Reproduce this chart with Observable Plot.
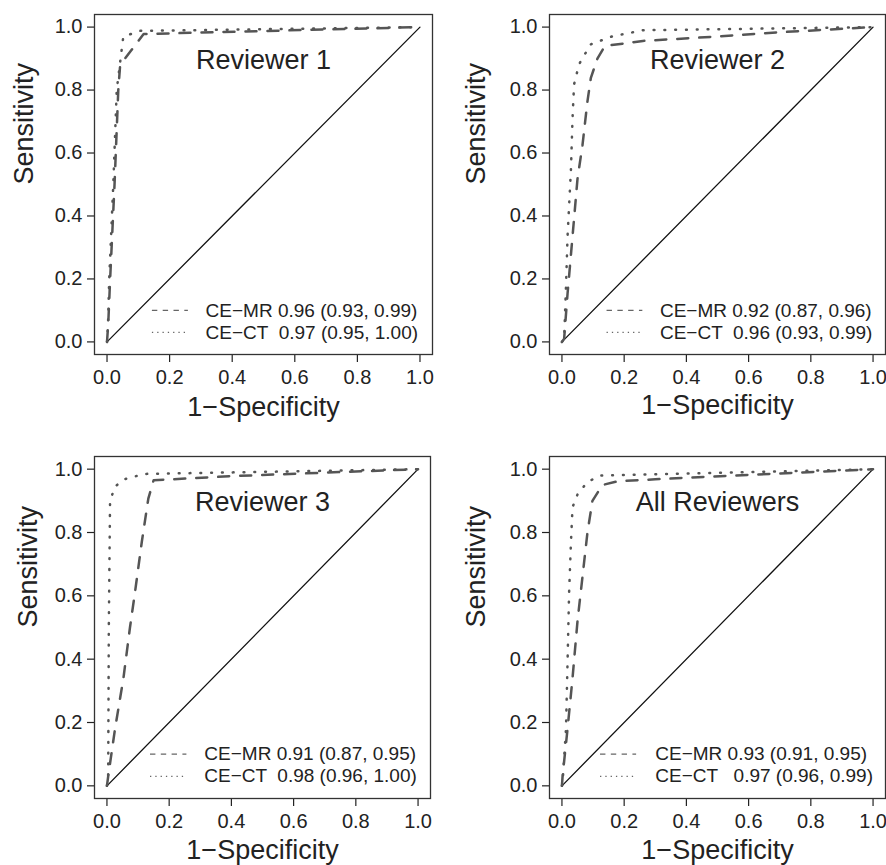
<!DOCTYPE html>
<html><head><meta charset="utf-8">
<script src="https://cdn.jsdelivr.net/npm/d3@7"></script>
<script src="https://cdn.jsdelivr.net/npm/@observablehq/plot@0.6"></script>
<style>
html,body{margin:0;padding:0;background:#fff;}
#wrap{position:relative;width:886px;height:865px;overflow:hidden;background:#fff;}
.panel{position:absolute;}
.panel svg text{white-space:pre;}
</style></head><body><div id="wrap"></div><script>
// ---- data ----
const panelTitles = ["Reviewer 1", "Reviewer 2", "Reviewer 3", "All Reviewers"];
const mrLabels = ["CE\u2212MR 0.96 (0.93, 0.99)", "CE\u2212MR 0.92 (0.87, 0.96)", "CE\u2212MR 0.91 (0.87, 0.95)", "CE\u2212MR 0.93 (0.91, 0.95)"];
const ctLabels = ["CE\u2212CT  0.97 (0.95, 1.00)", "CE\u2212CT  0.96 (0.93, 0.99)", "CE\u2212CT  0.98 (0.96, 1.00)", "CE\u2212CT   0.97 (0.96, 0.99)"];
const tickValues = [0, 0.2, 0.4, 0.6, 0.8, 1.0];
const diagonal = [0, 1];
const xTitle = "1\u2212Specificity";
const yTitle = "Sensitivity";

// Reviewer 1
const r1MrFpr = [0, 0.004, 0.01, 0.024, 0.036, 0.042, 0.117, 1];
const r1MrTpr = [0, 0.06, 0.2, 0.5, 0.8, 0.88, 0.978, 1];
const r1CtFpr = [0, 0.003, 0.007, 0.02, 0.031, 0.052, 0.106, 1];
const r1CtTpr = [0, 0.05, 0.2, 0.5, 0.8, 0.97, 0.988, 1];
// Reviewer 2
const r2MrFpr = [0, 0.007, 0.018, 0.034, 0.05, 0.066, 0.082, 0.093, 0.114, 0.138, 0.26, 0.48, 0.69, 1];
const r2MrTpr = [0, 0.01, 0.153, 0.335, 0.518, 0.625, 0.764, 0.839, 0.9, 0.94, 0.956, 0.969, 0.983, 1];
const r2CtFpr = [0, 0.007, 0.013, 0.018, 0.029, 0.034, 0.039, 0.055, 0.092, 0.16, 0.26, 1];
const r2CtTpr = [0, 0.01, 0.175, 0.335, 0.55, 0.71, 0.818, 0.882, 0.945, 0.97, 0.99, 1];
// Reviewer 3
const r3MrFpr = [0, 0.004, 0.026, 0.053, 0.074, 0.09, 0.112, 0.133, 0.15, 0.4, 1];
const r3MrTpr = [0, 0.03, 0.18, 0.34, 0.5, 0.61, 0.77, 0.907, 0.965, 0.978, 1];
const r3CtFpr = [0, 0.004, 0.006, 0.01, 0.026, 0.055, 0.12, 1];
const r3CtTpr = [0, 0.036, 0.5, 0.9, 0.945, 0.968, 0.985, 1];
// All reviewers
const r4MrFpr = [0, 0.002, 0.018, 0.034, 0.05, 0.066, 0.082, 0.098, 0.13, 0.18, 0.3, 0.6, 1];
const r4MrTpr = [0, 0.03, 0.18, 0.34, 0.52, 0.66, 0.8, 0.9, 0.95, 0.962, 0.968, 0.982, 1];
const r4CtFpr = [0, 0.002, 0.013, 0.018, 0.023, 0.029, 0.034, 0.05, 0.082, 0.125, 1];
const r4CtTpr = [0, 0.01, 0.18, 0.39, 0.61, 0.77, 0.88, 0.92, 0.96, 0.98, 1];

const mrFpr = [r1MrFpr, r2MrFpr, r3MrFpr, r4MrFpr];
const mrTpr = [r1MrTpr, r2MrTpr, r3MrTpr, r4MrTpr];
const ctFpr = [r1CtFpr, r2CtFpr, r3CtFpr, r4CtFpr];
const ctTpr = [r1CtTpr, r2CtTpr, r3CtTpr, r4CtTpr];

// ---- layout ----
const FONT = "'Liberation Sans', Arial, Helvetica, sans-serif";
const layout = [
  {left: 0,   top: 0,   h: 432, mL: 94,  mR: 11, mT: 14, mB: 78, yDx: -81, xDy: 61, legX: 0.315, s1: 0.145, s2: 0.26},
  {left: 443, top: 0,   h: 432, mL: 106, mR: 1,  mT: 14, mB: 78, yDx: -84, xDy: 59, legX: 0.315, s1: 0.145, s2: 0.26},
  {left: 0,   top: 432, h: 433, mL: 94,  mR: 13, mT: 24, mB: 67, yDx: -77, xDy: 60, legX: 0.313, s1: 0.14,  s2: 0.257},
  {left: 443, top: 432, h: 433, mL: 106, mR: 1,  mT: 24, mB: 67, yDx: -84, xDy: 60, legX: 0.30,  s1: 0.124, s2: 0.24}
];

const wrap = document.getElementById("wrap");
const fmt = d3.format(".1f");
const rows = (f, t) => f.map((x, i) => ({x, y: t[i]}));

layout.forEach((L, i) => {
  const plot = Plot.plot({
    width: 443, height: L.h,
    marginLeft: L.mL, marginRight: L.mR, marginTop: L.mT, marginBottom: L.mB,
    x: {domain: [-0.04, 1.04]},
    y: {domain: [-0.04, 1.04]},
    style: {fontFamily: FONT, color: "#222", overflow: "visible", background: "transparent"},
    marks: [
      Plot.axisX(tickValues, {tickSize: 8, tickPadding: 7, tickFormat: fmt, fontSize: 20, label: null, strokeWidth: 1.2}),
      Plot.axisY(tickValues, {tickSize: 7, tickPadding: 5, tickFormat: fmt, fontSize: 20, label: null, strokeWidth: 1.2}),
      Plot.line(diagonal, {x: d => d, y: d => d, stroke: "#111", strokeWidth: 1.3}),
      Plot.line(rows(mrFpr[i], mrTpr[i]), {x: "x", y: "y", stroke: "#555", strokeWidth: 2.5, strokeDasharray: "11,11", strokeLinecap: "round", strokeLinejoin: "round"}),
      Plot.line(rows(ctFpr[i], ctTpr[i]), {x: "x", y: "y", stroke: "#555", strokeWidth: 2.5, strokeDasharray: "0.8,10", strokeLinecap: "round", strokeLinejoin: "round"}),
      Plot.frame({stroke: "#333", strokeWidth: 1.3}),
      Plot.text([panelTitles[i]], {x: 0.5, y: 0.867, text: d => d, fontSize: 27, lineAnchor: "bottom"}),
      Plot.ruleY([0.10], {x1: L.s1, x2: L.s2, stroke: "#666", strokeWidth: 1.3, strokeDasharray: "5.4,5.4"}),
      Plot.ruleY([0.03], {x1: L.s1, x2: L.s2, stroke: "#666", strokeWidth: 1.3, strokeDasharray: "1.3,4"}),
      Plot.text([mrLabels[i]], {x: L.legX, y: 0.10, text: d => d, textAnchor: "start", lineAnchor: "middle", fontSize: 19}),
      Plot.text([ctLabels[i]], {x: L.legX, y: 0.03, text: d => d, textAnchor: "start", lineAnchor: "middle", fontSize: 19}),
      Plot.text([xTitle], {frameAnchor: "bottom", dy: L.xDy, text: d => d, lineAnchor: "bottom", fontSize: 27}),
      Plot.text([yTitle], {frameAnchor: "left", dx: L.yDx, rotate: -90, text: d => d, lineAnchor: "top", fontSize: 27})
    ]
  });
  const div = document.createElement("div");
  div.className = "panel";
  div.style.left = L.left + "px";
  div.style.top = L.top + "px";
  div.appendChild(plot);
  wrap.appendChild(div);
});
</script></body></html>
